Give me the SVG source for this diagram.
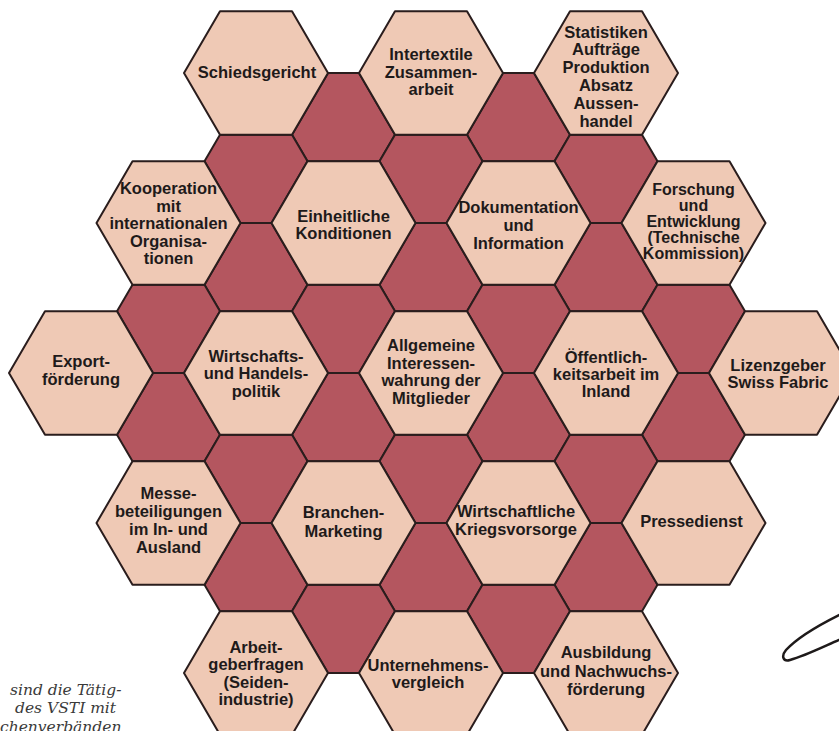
<svg xmlns="http://www.w3.org/2000/svg" xmlns:xlink="http://www.w3.org/1999/xlink" width="839" height="731" viewBox="0 0 839 731">
  <style>
    .hex { fill: #efc9b5; stroke: #2a1d1d; stroke-width: 2; stroke-linejoin: round; }
    .gap { fill: #b4565f; stroke: #2a1d1d; stroke-width: 2; stroke-linejoin: round; }
    .lbl { font-family: "Liberation Sans", Arial, Helvetica, sans-serif; font-weight: bold; font-size: 16.5px; fill: #1e1a1a; text-anchor: middle; }
    .tight { font-size: 16px; }
    .note { font-family: "DejaVu Serif", "Liberation Serif", serif; font-style: italic; font-size: 15.5px; fill: #3a3a3a; }
    .swoosh { fill: none; stroke: #1e1a1a; stroke-width: 2.5; stroke-linecap: round; }
  </style>
  <defs>
    <!-- flat-topped honeycomb cell, radius 72 -->
    <polygon id="hex" points="-72,0 -36,-61.8 36,-61.8 72,0 36,61.8 -36,61.8"/>
    <!-- filler between three cells, anchored on the lower-left cell centre (apex up) -->
    <polygon id="gapUp" points="72,0 103,0 139,-61.8 123.5,-88.2 51.5,-88.2 36,-61.8"/>
    <!-- filler between three cells, anchored on the upper-left cell centre (apex down) -->
    <polygon id="gapDown" points="72,0 103,0 139,61.8 123.5,88.2 51.5,88.2 36,61.8"/>
  </defs>

  <rect width="839" height="731" fill="#ffffff"/>

  <!-- dark filler cells -->
  <g id="fillers">
    <use xlink:href="#gapDown" href="#gapDown" class="gap" transform="translate(256,73)"/>
    <use xlink:href="#gapDown" href="#gapDown" class="gap" transform="translate(431,73)"/>
    <use xlink:href="#gapUp" href="#gapUp" class="gap" transform="translate(168.5,223)"/>
    <use xlink:href="#gapUp" href="#gapUp" class="gap" transform="translate(343.5,223)"/>
    <use xlink:href="#gapUp" href="#gapUp" class="gap" transform="translate(518.5,223)"/>

    <use xlink:href="#gapDown" href="#gapDown" class="gap" transform="translate(168.5,223)"/>
    <use xlink:href="#gapDown" href="#gapDown" class="gap" transform="translate(343.5,223)"/>
    <use xlink:href="#gapDown" href="#gapDown" class="gap" transform="translate(518.5,223)"/>
    <use xlink:href="#gapUp" href="#gapUp" class="gap" transform="translate(81,373)"/>
    <use xlink:href="#gapUp" href="#gapUp" class="gap" transform="translate(256,373)"/>
    <use xlink:href="#gapUp" href="#gapUp" class="gap" transform="translate(431,373)"/>
    <use xlink:href="#gapUp" href="#gapUp" class="gap" transform="translate(606,373)"/>

    <use xlink:href="#gapDown" href="#gapDown" class="gap" transform="translate(81,373)"/>
    <use xlink:href="#gapDown" href="#gapDown" class="gap" transform="translate(256,373)"/>
    <use xlink:href="#gapDown" href="#gapDown" class="gap" transform="translate(431,373)"/>
    <use xlink:href="#gapDown" href="#gapDown" class="gap" transform="translate(606,373)"/>
    <use xlink:href="#gapUp" href="#gapUp" class="gap" transform="translate(168.5,523)"/>
    <use xlink:href="#gapUp" href="#gapUp" class="gap" transform="translate(343.5,523)"/>
    <use xlink:href="#gapUp" href="#gapUp" class="gap" transform="translate(518.5,523)"/>

    <use xlink:href="#gapDown" href="#gapDown" class="gap" transform="translate(168.5,523)"/>
    <use xlink:href="#gapDown" href="#gapDown" class="gap" transform="translate(343.5,523)"/>
    <use xlink:href="#gapDown" href="#gapDown" class="gap" transform="translate(518.5,523)"/>
    <use xlink:href="#gapUp" href="#gapUp" class="gap" transform="translate(256,673)"/>
    <use xlink:href="#gapUp" href="#gapUp" class="gap" transform="translate(431,673)"/>
  </g>

  <!-- row 1 -->
  <g id="schiedsgericht" transform="translate(256,73)">
    <use xlink:href="#hex" href="#hex" class="hex"/>
    <text class="lbl"><tspan x="1" y="5">Schiedsgericht</tspan></text>
  </g>
  <g id="intertextile" transform="translate(431,73)">
    <use xlink:href="#hex" href="#hex" class="hex"/>
    <text class="lbl"><tspan x="0" y="-13">Intertextile</tspan><tspan x="0" y="4.6">Zusammen-</tspan><tspan x="0" y="22.2">arbeit</tspan></text>
  </g>
  <g id="statistiken" transform="translate(606,73)">
    <use xlink:href="#hex" href="#hex" class="hex"/>
    <text class="lbl"><tspan x="0" y="-35.5">Statistiken</tspan><tspan x="0" y="-17.7">Aufträge</tspan><tspan x="0" y="0.1">Produktion</tspan><tspan x="0" y="17.9">Absatz</tspan><tspan x="0" y="35.7">Aussen-</tspan><tspan x="0" y="53.5">handel</tspan></text>
  </g>

  <!-- row 2 -->
  <g id="kooperation" transform="translate(168.5,223)">
    <use xlink:href="#hex" href="#hex" class="hex"/>
    <text class="lbl"><tspan x="0" y="-29">Kooperation</tspan><tspan x="0" y="-11.4">mit</tspan><tspan x="0" y="6.2">internationalen</tspan><tspan x="0" y="23.8">Organisa-</tspan><tspan x="0" y="41.4">tionen</tspan></text>
  </g>
  <g id="einheitliche" transform="translate(343.5,223)">
    <use xlink:href="#hex" href="#hex" class="hex"/>
    <text class="lbl"><tspan x="0" y="-1.3">Einheitliche</tspan><tspan x="0" y="16.3">Konditionen</tspan></text>
  </g>
  <g id="dokumentation" transform="translate(518.5,223)">
    <use xlink:href="#hex" href="#hex" class="hex"/>
    <text class="lbl"><tspan x="0" y="-9.7">Dokumentation</tspan><tspan x="0" y="8.3">und</tspan><tspan x="0" y="26.3">Information</tspan></text>
  </g>
  <g id="forschung" transform="translate(693.5,223)">
    <use xlink:href="#hex" href="#hex" class="hex"/>
    <text class="lbl tight"><tspan x="0" y="-28.5">Forschung</tspan><tspan x="0" y="-12.5">und</tspan><tspan x="0" y="3.5">Entwicklung</tspan><tspan x="0" y="19.5">(Technische</tspan><tspan x="0" y="35.5">Kommission)</tspan></text>
  </g>

  <!-- row 3 -->
  <g id="export" transform="translate(81,373)">
    <use xlink:href="#hex" href="#hex" class="hex"/>
    <text class="lbl"><tspan x="0" y="-6.3">Export-</tspan><tspan x="0" y="11.5">förderung</tspan></text>
  </g>
  <g id="handelspolitik" transform="translate(256,373)">
    <use xlink:href="#hex" href="#hex" class="hex"/>
    <text class="lbl"><tspan x="0" y="-11.3">Wirtschafts-</tspan><tspan x="0" y="6.3">und Handels-</tspan><tspan x="0" y="23.9">politik</tspan></text>
  </g>
  <g id="interessenwahrung" transform="translate(431,373)">
    <use xlink:href="#hex" href="#hex" class="hex"/>
    <text class="lbl"><tspan x="0" y="-22">Allgemeine</tspan><tspan x="0" y="-4.3">Interessen-</tspan><tspan x="0" y="13.4">wahrung der</tspan><tspan x="0" y="31.1">Mitglieder</tspan></text>
  </g>
  <g id="oeffentlichkeitsarbeit" transform="translate(606,373)">
    <use xlink:href="#hex" href="#hex" class="hex"/>
    <text class="lbl"><tspan x="0" y="-9.7">Öffentlich-</tspan><tspan x="0" y="7">keitsarbeit im</tspan><tspan x="0" y="23.7">Inland</tspan></text>
  </g>
  <g id="lizenzgeber" transform="translate(781,373)">
    <use xlink:href="#hex" href="#hex" class="hex"/>
    <text class="lbl"><tspan x="-3" y="-2.3">Lizenzgeber</tspan><tspan x="-3" y="14.5">Swiss Fabric</tspan></text>
  </g>

  <!-- row 4 -->
  <g id="messe" transform="translate(168.5,523)">
    <use xlink:href="#hex" href="#hex" class="hex"/>
    <text class="lbl"><tspan x="0" y="-23.7">Messe-</tspan><tspan x="0" y="-5.9">beteiligungen</tspan><tspan x="0" y="11.9">im In- und</tspan><tspan x="0" y="29.7">Ausland</tspan></text>
  </g>
  <g id="marketing" transform="translate(343.5,523)">
    <use xlink:href="#hex" href="#hex" class="hex"/>
    <text class="lbl"><tspan x="0" y="-4.7">Branchen-</tspan><tspan x="0" y="13.5">Marketing</tspan></text>
  </g>
  <g id="kriegsvorsorge" transform="translate(518.5,523)">
    <use xlink:href="#hex" href="#hex" class="hex"/>
    <text class="lbl"><tspan x="-2.5" y="-5.7">Wirtschaftliche</tspan><tspan x="-2.5" y="12">Kriegsvorsorge</tspan></text>
  </g>
  <g id="pressedienst" transform="translate(693.5,523)">
    <use xlink:href="#hex" href="#hex" class="hex"/>
    <text class="lbl"><tspan x="-2" y="3.7">Pressedienst</tspan></text>
  </g>

  <!-- row 5 -->
  <g id="arbeitgeberfragen" transform="translate(256,673)">
    <use xlink:href="#hex" href="#hex" class="hex"/>
    <text class="lbl"><tspan x="0" y="-20.3">Arbeit-</tspan><tspan x="0" y="-2.9">geberfragen</tspan><tspan x="0" y="14.5">(Seiden-</tspan><tspan x="0" y="31.9">industrie)</tspan></text>
  </g>
  <g id="unternehmensvergleich" transform="translate(431,673)">
    <use xlink:href="#hex" href="#hex" class="hex"/>
    <text class="lbl"><tspan x="-3" y="-2.3">Unternehmens-</tspan><tspan x="-3" y="15.3">vergleich</tspan></text>
  </g>
  <g id="ausbildung" transform="translate(606,673)">
    <use xlink:href="#hex" href="#hex" class="hex"/>
    <text class="lbl"><tspan x="0" y="-14.7">Ausbildung</tspan><tspan x="0" y="3.7">und Nachwuchs-</tspan><tspan x="0" y="22">förderung</tspan></text>
  </g>

  <!-- caption fragment, lower left (runs off the bottom edge) -->
  <text class="note"><tspan x="10" y="695">sind die Tätig-</tspan><tspan x="15" y="713">des VSTI mit</tspan><tspan x="0" y="732">chenverbänden</tspan></text>

  <!-- pen stroke, lower right -->
  <path class="swoosh" d="M839,615 C815,627 795,640 786,650 C781,656 783,662 790,660 C805,656 825,646 839,640"/>
</svg>
